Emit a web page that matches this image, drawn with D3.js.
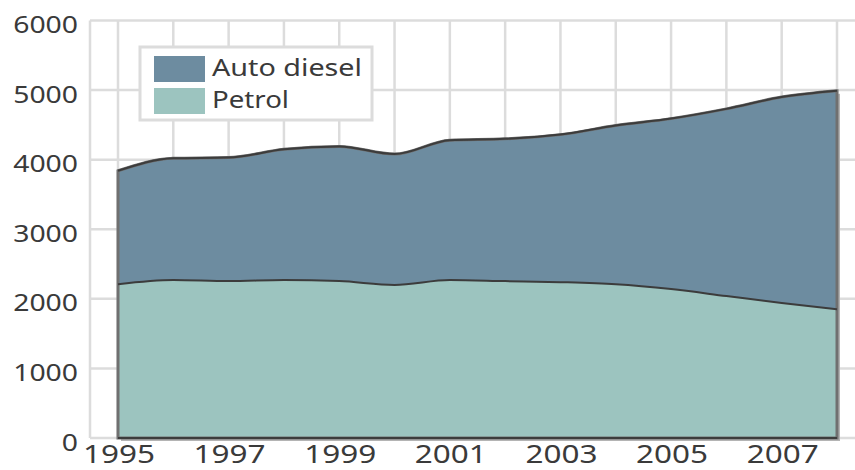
<!DOCTYPE html>
<html>
<head>
<meta charset="utf-8">
<script src="https://cdn.jsdelivr.net/npm/d3@7"></script>
<style>
  html, body { margin: 0; padding: 0; background: #fff; }
  svg { display: block; }
  text { font-family: "Noto Sans", "Open Sans", sans-serif; fill: #3a3a3a; }
</style>
</head>
<body>
<svg id="chart" width="855" height="470"></svg>
<script>
// Road fuel consumption by type, stacked
const years = [1995, 1996, 1997, 1998, 1999, 2000, 2001, 2002, 2003, 2004, 2005, 2006, 2007, 2008];
const petrol = [2210, 2270, 2255, 2270, 2255, 2200, 2270, 2255, 2240, 2210, 2140, 2040, 1940, 1850];
const autoDiesel = [1630, 1750, 1775, 1880, 1935, 1880, 2010, 2045, 2120, 2280, 2450, 2690, 2960, 3140];
const yTicks = [0, 1000, 2000, 3000, 4000, 5000, 6000];
const xTickYears = [1995, 1997, 1999, 2001, 2003, 2005, 2007];
const seriesNames = ["Auto diesel", "Petrol"];
const seriesColors = { "Auto diesel": "#6d8ca0", "Petrol": "#9cc4bf" };

const svg = d3.select("#chart");
const gridLeft = 90, gridRight = 855;

const x = d3.scaleLinear().domain([1995, 2008]).range([118, 837]);
const y = d3.scaleLinear().domain([0, 6000]).range([438, 20.5]);

const rows = years.map((yr, i) => ({ year: yr, Petrol: petrol[i], "Auto diesel": autoDiesel[i] }));
const stack = d3.stack().keys(["Petrol", "Auto diesel"]);
const layers = stack(rows);

// grid
const grid = svg.append("g").attr("stroke", "#dcdcdc").attr("stroke-width", 2.5);
grid.selectAll("line.h").data(yTicks).join("line")
  .attr("x1", gridLeft).attr("x2", gridRight)
  .attr("y1", d => y(d)).attr("y2", d => y(d));
grid.selectAll("line.v").data([null].concat(years)).join("line")
  .attr("x1", d => d === null ? gridLeft : x(d))
  .attr("x2", d => d === null ? gridLeft : x(d))
  .attr("y1", y(6000)).attr("y2", y(0));

const curve = d3.curveMonotoneX;
const area = d3.area().x(d => x(d.data.year)).y0(d => y(d[0])).y1(d => y(d[1])).curve(curve);
const topLine = d3.line().x(d => x(d.data.year)).y(d => y(d[1])).curve(curve);

// the full stack, from zero to the top layer
const total = layers[1].map(d => Object.assign([0, d[1]], { data: d.data }));

// shadow under the stack
svg.append("path")
  .attr("d", area(total))
  .attr("transform", "translate(3,3)")
  .attr("fill", "#b4b4b4");

// areas
svg.selectAll("path.layer").data(layers).join("path")
  .attr("class", "layer")
  .attr("d", area)
  .attr("fill", d => seriesColors[d.key]);

// outline of the whole stack
svg.append("path")
  .attr("d", area(total))
  .attr("fill", "none")
  .attr("stroke", "#707070")
  .attr("stroke-width", 3);

// dark edges on top of each layer and along the base
svg.selectAll("path.edge").data(layers).join("path")
  .attr("class", "edge")
  .attr("d", topLine)
  .attr("fill", "none")
  .attr("stroke", "#3c3c3c")
  .attr("stroke-width", 2);
svg.append("line")
  .attr("x1", x(1995)).attr("x2", x(2008))
  .attr("y1", y(0)).attr("y2", y(0))
  .attr("stroke", "#3c3c3c").attr("stroke-width", 2);

// y axis labels
svg.append("g").selectAll("text").data(yTicks).join("text")
  .attr("x", 78).attr("y", d => y(d) + 12.5)
  .attr("text-anchor", "end")
  .attr("font-size", 23)
  .attr("textLength", d => String(d).length * 16.2)
  .attr("lengthAdjust", "spacingAndGlyphs")
  .text(d => d);

// x axis labels
svg.append("g").selectAll("text").data(xTickYears).join("text")
  .attr("x", d => x(d) + 1).attr("y", 463)
  .attr("text-anchor", "middle")
  .attr("font-size", 26)
  .attr("textLength", 72)
  .attr("lengthAdjust", "spacingAndGlyphs")
  .text(d => d);

// legend
const legend = svg.append("g");
legend.append("rect")
  .attr("x", 140).attr("y", 47).attr("width", 232).attr("height", 73)
  .attr("fill", "#fff").attr("stroke", "#dcdcdc").attr("stroke-width", 3);
const legendRows = legend.selectAll("g.item").data(seriesNames).join("g")
  .attr("transform", (d, i) => `translate(0, ${i * 32})`);
legendRows.append("rect")
  .attr("x", 154).attr("y", 56).attr("width", 51).attr("height", 26)
  .attr("fill", d => seriesColors[d]);
legendRows.append("text")
  .attr("x", 212).attr("y", 76)
  .attr("font-size", 24)
  .attr("textLength", d => d === "Auto diesel" ? 150 : 77)
  .attr("lengthAdjust", "spacingAndGlyphs")
  .text(d => d);
</script>
</body>
</html>
